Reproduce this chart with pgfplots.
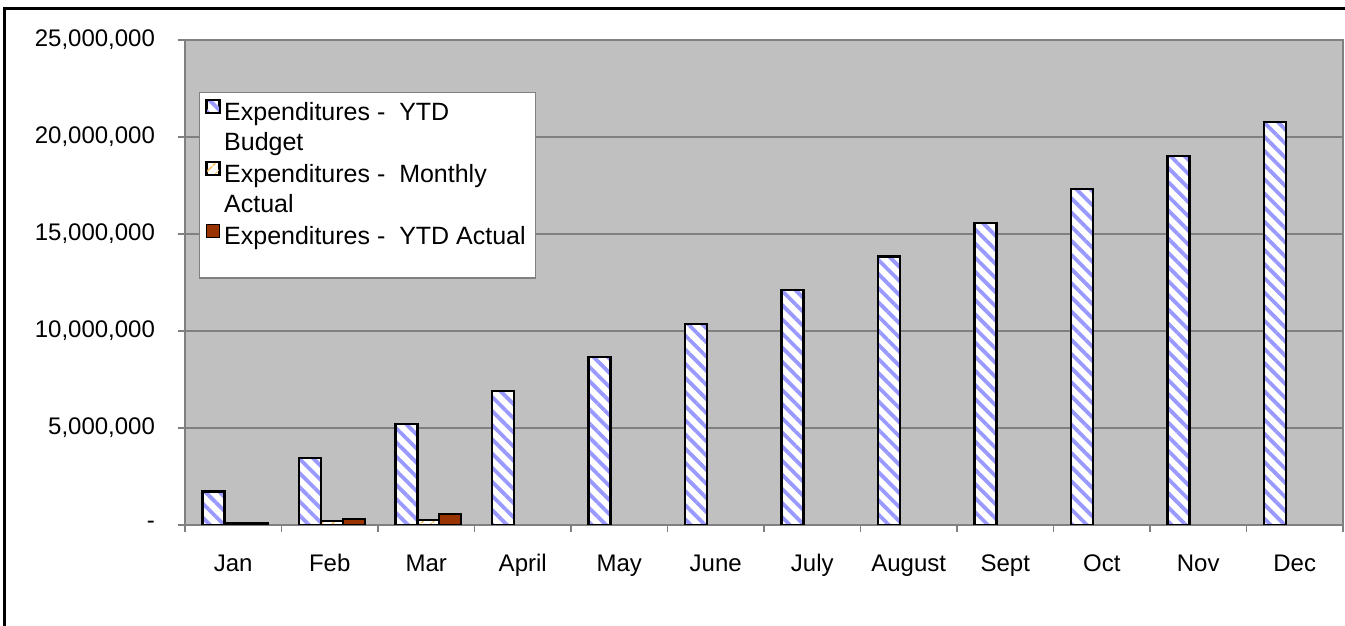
\documentclass[border=0pt]{standalone}
\usepackage{fontspec}
\setmainfont{Liberation Sans}
\usepackage{pgfplots}
\pgfplotsset{compat=1.18}
\usetikzlibrary{patterns,patterns.meta}
\definecolor{plotbg}{RGB}{192,192,192}
\definecolor{stripe}{RGB}{153,153,255}
\definecolor{ytdact}{RGB}{153,51,0}
\definecolor{mact}{RGB}{255,153,0}
\definecolor{gridgray}{RGB}{128,128,128}
\pgfplotsset{
  oneline legend/.style={legend image code/.code={\draw[##1,/tikz/.cd,line width=0.8pt] (0pt,0pt) rectangle (6.5pt,6.5pt);}},
  twoline legend/.style={legend image code/.code={\draw[##1,/tikz/.cd,line width=0.8pt] (0pt,7.5pt) rectangle (6.5pt,14pt);}},
}

\begin{document}
\begin{tikzpicture}
\useasboundingbox (0,0) rectangle (672.5pt,313pt);
\draw[line width=1.5pt] (2pt,-1pt) -- (2pt,308.5pt) -- (674pt,308.5pt);
\begin{axis}[
  at={(92.5pt,50.5pt)}, anchor=south west,
  scale only axis, width=579pt, height=242.5pt,
  font=\fontsize{12pt}{14pt}\selectfont,
  axis background/.style={fill=plotbg},
  axis line style={gridgray, line width=0.6pt},
  xmin=-0.5, xmax=11.5, ymin=0, ymax=25000000,
  ybar=0pt, bar width=11pt,
  xtick={0,...,11},
  xticklabels={Jan,Feb,Mar,April,May,June,July,August,Sept,Oct,Nov,Dec},
  minor xtick={-0.5,0.5,...,11.5},
  ytick={0,5000000,10000000,15000000,20000000,25000000},
  yticklabels={-,{5,000,000},{10,000,000},{15,000,000},{20,000,000},{25,000,000}},
  scaled y ticks=false,
  ymajorgrids, grid style={gridgray, line width=0.6pt},
  tick align=outside, xtick pos=bottom, ytick pos=left,
  major tick length=3.5pt, minor tick length=3.5pt,
  tick style={gridgray, line width=0.6pt},
  every major x tick/.append style={draw=none},
  xticklabel style={anchor=base, yshift=-20pt},
  yticklabel style={xshift=-8pt},
  /pgf/number format/assume math mode=true,
  legend style={at={(axis description cs:0.0121,0.8928)}, anchor=north west,
    draw=gridgray, fill=white, line width=0.6pt,
    font=\fontsize{12.5pt}{15pt}\selectfont, cells={align=left},
    row sep=1.5pt, inner sep=3pt},
  legend cell align=left,
  oneline legend,
]
\addplot[bar shift=-9.9pt, preaction={fill=white}, pattern={Lines[angle=-45,distance=5pt,line width=1.9pt]}, pattern color=stripe, draw=black, line width=1.1pt, twoline legend]
  coordinates {(0,1730000) (1,3460000) (2,5190000) (3,6920000) (4,8650000) (5,10380000)
               (6,12110000) (7,13840000) (8,15570000) (9,17300000) (10,19030000) (11,20760000)};
\addlegendentry{Expenditures -\ \ YTD\\Budget}
\addplot[bar shift=1.1pt, preaction={fill=white}, pattern={Lines[angle=45,distance=4pt,line width=0.8pt]}, pattern color=mact!70, draw=black, line width=1.1pt, twoline legend]
  coordinates {(0,90000) (1,220000) (2,240000)};
\addlegendentry{Expenditures -\ \ Monthly\\Actual}
\addplot[bar shift=12pt, fill=ytdact, draw=black, line width=1.1pt]
  coordinates {(0,90000) (1,310000) (2,550000)};
\addlegendentry{Expenditures -\ \ YTD Actual}
\addlegendimage{empty legend}
\addlegendentry{\rule{0pt}{3pt}}
\end{axis}
\end{tikzpicture}
\end{document}
